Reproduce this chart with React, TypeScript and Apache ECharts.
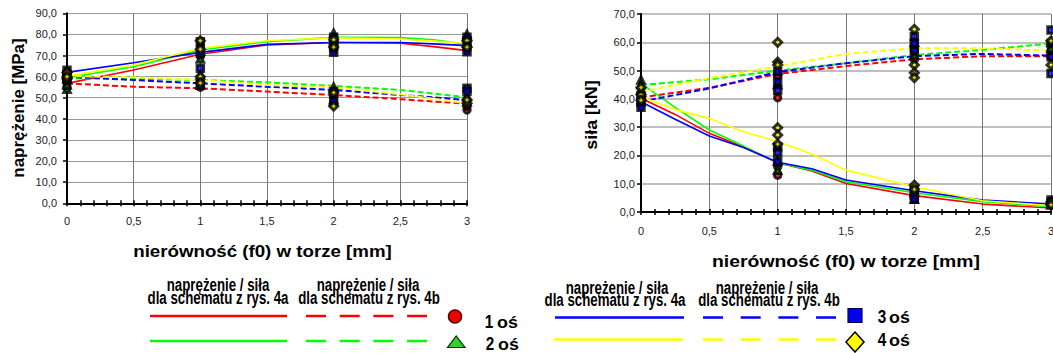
import React, { useEffect, useRef } from 'react';
import * as echarts from 'echarts';

// ---- data ----
const axleNames = ['1 oś', '2 oś', '3 oś', '4 oś'];
const axleColors = ['#ff0000', '#00ff00', '#0000ff', '#ffff00'];
const axleSymbols = ['circle', 'triangle', 'rect', 'diamond'];
const measureX = [0, 1, 2, 3];

// left chart: stress [MPa]
const stressLineX = [0, 0.5, 1, 1.5, 2, 2.5, 2.75, 3];
const stressSolid = [
  [56.8, 63.1, 70.6, 75, 76.2, 75.8, 74.2, 72.3],
  [59.5, 64.7, 72.6, 76.6, 78.6, 78.5, 77.5, 75.3],
  [62, 66.6, 71.5, 75.3, 76.2, 76.2, 75.5, 74.7],
  [60.3, 65.5, 73.4, 77, 78.4, 77.8, 76.8, 75.8],
];
const stressDashed = [
  [56.8, 55.2, 54.5, 52.9, 51.3, 49.3, 48.2, 47.2],
  [59.2, 59, 58.4, 57.3, 55.6, 53.7, 52, 50.2],
  [60, 58.4, 56.8, 55.2, 53.7, 51.3, 50.2, 48.9],
  [60.3, 59.7, 58.4, 56, 55, 51.6, 49.5, 47.4],
];
const stressMarks = [
  [[55, 57, 58], [74, 70, 58, 55], [76, 73, 50.5, 47], [75, 73, 44.2, 46]],
  [[54, 56, 59], [68.5, 72, 60.8, 56], [80.5, 77, 55, 49], [80, 76, 50.5, 48]],
  [[63, 60, 61], [76.5, 71, 64, 56], [78.6, 75, 71.5, 48.5, 53], [78.6, 77, 71.8, 54.5, 52.9]],
  [[62, 59, 60], [73, 77, 60, 57], [77.5, 74, 52.4, 46], [77, 74, 47.4, 49]],
];

// right chart: force [kN]
const forceSolidX = [0, 0.25, 0.5, 0.75, 1, 1.25, 1.5, 2, 2.5, 3];
const forceSolid = [
  [40.2, 34.5, 27.8, 23, 17.4, 14.5, 10.1, 5.8, 2.8, 1.4],
  [45.5, 37, 29, 23.3, 17.4, 14.8, 10.7, 6.8, 3.6, 1.9],
  [39, 32.8, 26.9, 22.8, 17.6, 15.3, 11.3, 7.5, 4.2, 2.8],
  [40.8, 36.2, 33.1, 28.4, 24.9, 20.5, 14.8, 8.9, 4, 2.2],
];
const forceDashedX = [0, 0.5, 1, 1.5, 2, 2.5, 3];
const forceDashed = [
  [40.5, 43.9, 48.8, 51.6, 54, 55.1, 55.1],
  [44.9, 46.9, 50, 52.6, 55.5, 57.3, 59.6],
  [39, 43.7, 49.5, 52.6, 55.1, 55.9, 55.3],
  [42.5, 47.3, 51.5, 55.9, 57.9, 57.9, 57],
];
const forceMarks = [
  [[40, 42, 38], [40.4, 48, 13, 16], [54, 57, 6, 5], [57, 55, 3, 2.5]],
  [[46.7, 45, 43], [45, 50, 14.8, 18], [55.5, 60, 7, 4.5], [60, 58, 2.5, 3]],
  [[39, 37, 41], [49.6, 46, 43, 23, 21, 17.8], [62, 59.6, 57, 7.8, 6, 4.5], [64.3, 59.6, 54.9, 49, 4.2, 3.3]],
  [[41.5, 39.5, 44], [60, 53, 52, 29.8, 27.2, 24], [64.6, 52, 49.2, 47.5, 9.5, 8], [60.5, 52, 3.5, 2.5]],
];

const FONT = "'Liberation Sans', Arial, sans-serif";
const fmtX = (v: number) => String(v).replace('.', ',');
const fmtY = (v: number) => v.toFixed(1).replace('.', ',');
const zip = (xs: number[], ys: number[]) => xs.map((x, i) => [x, ys[i]]);

function mkX(gridIndex: number, main: boolean, margin: number) {
  return {
    type: 'value', gridIndex, min: 0, max: 3, interval: 0.5, position: 'bottom',
    axisLine: { show: main, onZero: false, lineStyle: { color: '#000', width: 2 } },
    axisTick: { show: true, inside: !main, length: 3, lineStyle: { color: '#000', width: 1.5 } },
    minorTick: { show: true, splitNumber: 5, length: 3, lineStyle: { color: '#000', width: 1.5 } },
    axisLabel: { show: main, formatter: fmtX, fontSize: 11, color: '#222', fontFamily: FONT, margin, hideOverlap: false },
    splitLine: { show: main, lineStyle: { color: '#777', width: 1 } },
  };
}
function mkY(gridIndex: number, max: number, margin: number, gridW: number, gridC: string) {
  return {
    type: 'value', gridIndex, min: 0, max, interval: 10,
    axisLine: { show: true, onZero: false, lineStyle: { color: '#000', width: 2 } },
    axisTick: { show: true, length: 4, lineStyle: { color: '#000', width: 1.5 } },
    axisLabel: { formatter: fmtY, fontSize: 11, color: '#222', fontFamily: FONT, margin },
    splitLine: { show: true, lineStyle: { color: gridC, width: gridW } },
  };
}

function lineSeries(idx: number, xs: number[], ys: number[], color: string, dashed: boolean) {
  return {
    type: 'line', xAxisIndex: idx, yAxisIndex: idx, data: zip(xs, ys),
    showSymbol: false, symbol: 'none', smooth: false, z: 2, silent: true,
    lineStyle: dashed ? { color, width: 2, type: [6, 3] } : { color, width: 1.6 },
  };
}
function markSeries(idx: number, marks: number[][], a: number) {
  const data: number[][] = [];
  marks.forEach((vals, i) => vals.forEach((v) => data.push([measureX[i], v])));
  return {
    type: 'scatter', name: axleNames[a], xAxisIndex: idx, yAxisIndex: idx, data,
    symbol: axleSymbols[a], symbolSize: a === 3 ? 8 : 6.5, z: 5, silent: true,
    itemStyle: { color: axleColors[a], borderColor: '#000', borderWidth: 3 },
  };
}

function txt(x: number, y: number, text: string, size: number, extra: any = {}) {
  return {
    type: 'text', x, y, scaleX: extra.scaleX ?? 1, scaleY: extra.scaleY ?? 1, rotation: extra.rotation ?? 0,
    style: {
      text, fill: extra.fill ?? '#000',
      font: `bold ${size}px ${extra.family ?? FONT}`,
      textAlign: extra.align ?? 'center', textVerticalAlign: 'middle',
      align: extra.align ?? 'center', verticalAlign: 'middle',
    },
  };
}
function hline(x1: number, x2: number, y: number, color: string, dash?: number[]) {
  return {
    type: 'line', shape: { x1, y1: y, x2, y2: y },
    style: { stroke: color, lineWidth: 2.7, lineDash: dash ?? null },
  };
}

export default function App() {
  const ref = useRef<HTMLDivElement>(null);
  useEffect(() => {
    document.body.style.margin = '0';
    const chart = echarts.init(ref.current!, null, { renderer: 'svg' });
    const series: any[] = [];
    for (let a = 0; a < 4; a++) {
      series.push(lineSeries(0, stressLineX, stressSolid[a], axleColors[a], false));
      series.push(lineSeries(0, stressLineX, stressDashed[a], axleColors[a], true));
      series.push(lineSeries(1, forceSolidX, forceSolid[a], axleColors[a], false));
      series.push(lineSeries(1, forceDashedX, forceDashed[a], axleColors[a], true));
    }
    for (let a = 0; a < 4; a++) {
      series.push(markSeries(0, stressMarks[a], a));
      series.push(markSeries(1, forceMarks[a], a));
    }
    const hdr = { scaleX: 0.83, scaleY: 1.1 };
    const num = { scaleX: 0.85, scaleY: 1.05 };
    const os = { scaleX: 1.05, align: 'left' };
    const graphic: any[] = [
      txt(18.5, 108, 'naprężenie [MPa]', 16, { rotation: Math.PI / 2, scaleX: 1.06 }),
      txt(591.5, 115, 'siła [kN]', 17, { rotation: Math.PI / 2, scaleX: 1.05 }),
      txt(262.5, 251, 'nierówność (f0) w torze [mm]', 17, { scaleX: 1.1 }),
      txt(846, 261, 'nierówność (f0) w torze [mm]', 17, { scaleX: 1.14 }),
      // legend headers
      txt(218, 285, 'naprężenie / siła', 16, hdr),
      txt(218, 297.5, 'dla schematu z rys. 4a', 16, hdr),
      txt(368, 285, 'naprężenie / siła', 16, hdr),
      txt(369, 297.5, 'dla schematu z rys. 4b', 16, hdr),
      txt(617, 287.5, 'naprężenie / siła', 16, hdr),
      txt(615, 299.5, 'dla schematu z rys. 4a', 16, hdr),
      txt(767, 287.5, 'naprężenie / siła', 16, hdr),
      txt(769, 299.5, 'dla schematu z rys. 4b', 16, hdr),
      // legend lines
      hline(150, 287, 316, axleColors[0]),
      hline(306, 427, 316, axleColors[0], [20, 13.7]),
      hline(150, 287, 341, axleColors[1]),
      hline(306, 427, 341, axleColors[1], [20, 13.7]),
      hline(555, 684, 317.5, axleColors[2]),
      hline(703, 836, 317.5, axleColors[2], [20, 17.7]),
      hline(554, 683, 339.5, axleColors[3]),
      hline(703, 836, 339.5, axleColors[3], [20, 17.7]),
      // legend markers
      { type: 'circle', shape: { cx: 455, cy: 316.5, r: 6.5 }, style: { fill: '#ee0000', stroke: '#550000', lineWidth: 1.5 } },
      { type: 'polygon', shape: { points: [[447.5, 347.5], [465, 347.5], [456.2, 336]] }, style: { fill: '#33cc33', stroke: '#003300', lineWidth: 1.2 } },
      { type: 'rect', shape: { x: 848, y: 308.5, width: 14, height: 14 }, style: { fill: '#0000ee', stroke: '#000055', lineWidth: 1.2 } },
      { type: 'polygon', shape: { points: [[855, 332], [864, 342], [855, 352], [846, 342]] }, style: { fill: '#ffff00', stroke: '#000', lineWidth: 1.5 } },
      // legend labels
      txt(489, 321, '1', 18, num),
      txt(497, 322, 'oś', 17, os),
      txt(490, 343, '2', 18, num),
      txt(498, 344, 'oś', 17, os),
      txt(882, 316.5, '3', 18, num),
      txt(889, 317.5, 'oś', 17, os),
      txt(882, 339.5, '4', 18, num),
      txt(889, 340.5, 'oś', 17, os),
    ];
    chart.setOption({
      animation: false,
      backgroundColor: '#fff',
      grid: [
        { left: 67, top: 13.3, width: 400, height: 190, outerBoundsMode: 'none', containLabel: false },
        { left: 641, top: 14, width: 410, height: 198, outerBoundsMode: 'none', containLabel: false },
      ],
      xAxis: [mkX(0, true, 12), mkX(1, true, 13.5), mkX(0, false, 0), mkX(1, false, 0)],
      yAxis: [mkY(0, 90, 10, 1, '#999'), mkY(1, 70, 6, 1.5, '#aaa')],
      series,
      graphic,
    });
    return () => chart.dispose();
  }, []);
  return <div ref={ref} style={{ width: 1053, height: 353 }} />;
}
